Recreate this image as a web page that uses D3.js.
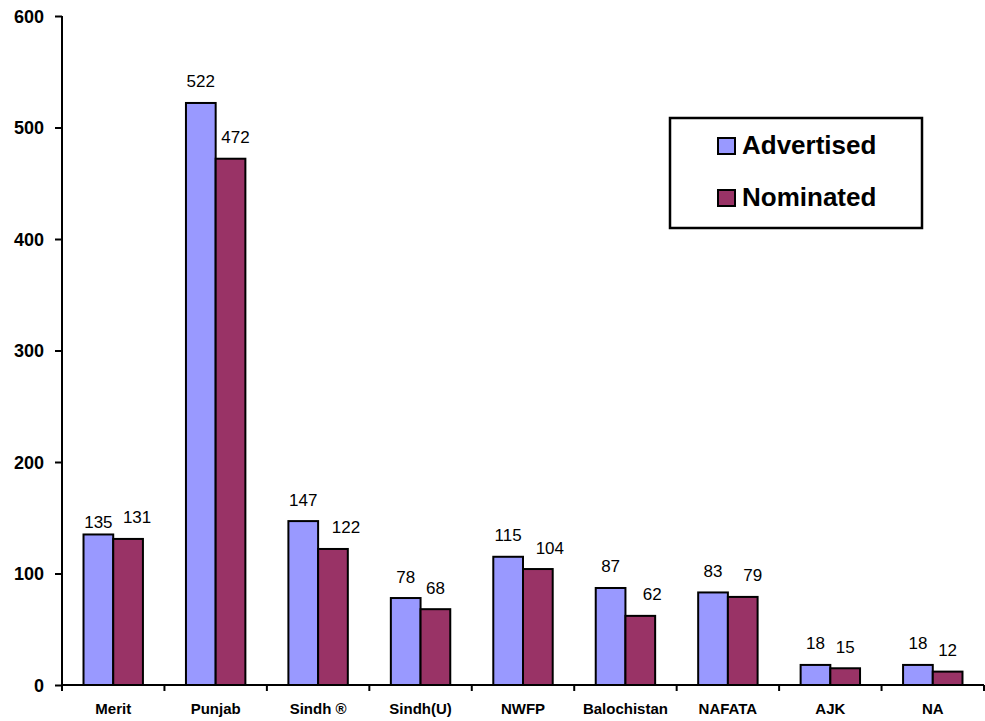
<!DOCTYPE html>
<html><head><meta charset="utf-8">
<script src="https://cdn.jsdelivr.net/npm/d3@7"></script>
<style>body{margin:0;background:#fff}svg{display:block}</style>
</head><body>
<svg id="c" width="985" height="721"></svg>
<script>
const categories = ["Merit","Punjab","Sindh \u00AE","Sindh(U)","NWFP","Balochistan","NAFATA","AJK","NA"];
const seriesNames = ["Advertised","Nominated"];
const advertised = [135,522,147,78,115,87,83,18,18];
const nominated = [131,472,122,68,104,62,79,15,12];
const yTicks = [0,100,200,300,400,500,600];
const colors = ["#9999FF","#993366"];

// layout: manual label nudges (px) as placed in the original chart
const nominatedLabelDx = [9,5,13,0,12,12,10,0,0];
const advertisedLabelDy = [9,0,0,0,0,0,0,0,0];

const svg = d3.select("#c");
const font = "'Liberation Sans', Arial, sans-serif";
const x0 = 62, x1 = 984, yb = 685, yt = 16;

const x = d3.scaleBand().domain(categories).range([x0, x1]).paddingInner(0).paddingOuter(0);
const bw = x.bandwidth();
const xs = d3.scaleBand().domain(seriesNames).range([bw*0.21, bw*0.79]).padding(0);
const y = d3.scaleLinear().domain([0,600]).range([yb, yt]);

const data = categories.map((c,i)=>({c, i, vals:[advertised[i], nominated[i]]}));

const g = svg.append("g");
data.forEach(d=>{
  d.vals.forEach((v,j)=>{
    const bx = x(d.c)+xs(seriesNames[j]);
    g.append("rect").attr("x",bx).attr("y",y(v)).attr("width",xs.bandwidth()).attr("height",yb-y(v))
      .attr("fill",colors[j]).attr("stroke","#000").attr("stroke-width",2);
    const dx = j===1 ? nominatedLabelDx[d.i] : 0;
    const dy = j===0 ? advertisedLabelDy[d.i] : 0;
    g.append("text").attr("x",bx+xs.bandwidth()/2+dx).attr("y",y(v)-15.5+dy).attr("text-anchor","middle")
      .attr("font-family",font).attr("font-size",17).attr("fill","#000").text(v);
  });
});

// y axis
const yAxis = svg.append("g").attr("transform",`translate(${x0},0)`)
  .call(d3.axisLeft(y).tickValues(yTicks).tickSize(7).tickPadding(11).tickFormat(d3.format("d")));
yAxis.select(".domain").attr("stroke","#000").attr("stroke-width",2).attr("d",`M0,${yt}V${yb}`);
yAxis.selectAll(".tick line").attr("stroke","#000").attr("stroke-width",2);
yAxis.selectAll(".tick text").attr("font-family",font).attr("font-size",18).attr("font-weight","bold").attr("fill","#000").attr("dy","0.36em");

// x axis
const bounds = categories.map(c=>x(c)).concat([x1]);
const xAxis = svg.append("g").attr("transform",`translate(0,${yb})`);
xAxis.append("path").attr("d",`M${x0},0H${x1}`).attr("stroke","#000").attr("stroke-width",2);
xAxis.selectAll("line.t").data(bounds).join("line").attr("class","t")
  .attr("x1",d=>d).attr("x2",d=>d).attr("y1",0).attr("y2",6).attr("stroke","#000").attr("stroke-width",2);
xAxis.selectAll("text").data(categories).join("text")
  .attr("x",d=>x(d)+bw/2).attr("y",29).attr("text-anchor","middle")
  .attr("font-family",font).attr("font-size",15).attr("font-weight","bold").attr("fill","#000").text(d=>d);

// legend
const lg = svg.append("g");
lg.append("rect").attr("x",670).attr("y",118).attr("width",252).attr("height",110)
  .attr("fill","#fff").attr("stroke","#000").attr("stroke-width",2.5);
seriesNames.forEach((s,i)=>{
  const ly = 146 + i*52;
  lg.append("rect").attr("x",718).attr("y",ly-8).attr("width",17).attr("height",16)
    .attr("fill",colors[i]).attr("stroke","#000").attr("stroke-width",2);
  lg.append("text").attr("x",742).attr("y",ly+8).attr("font-family",font).attr("font-size",26)
    .attr("font-weight","bold").attr("fill","#000").text(s);
});
</script>
</body></html>
